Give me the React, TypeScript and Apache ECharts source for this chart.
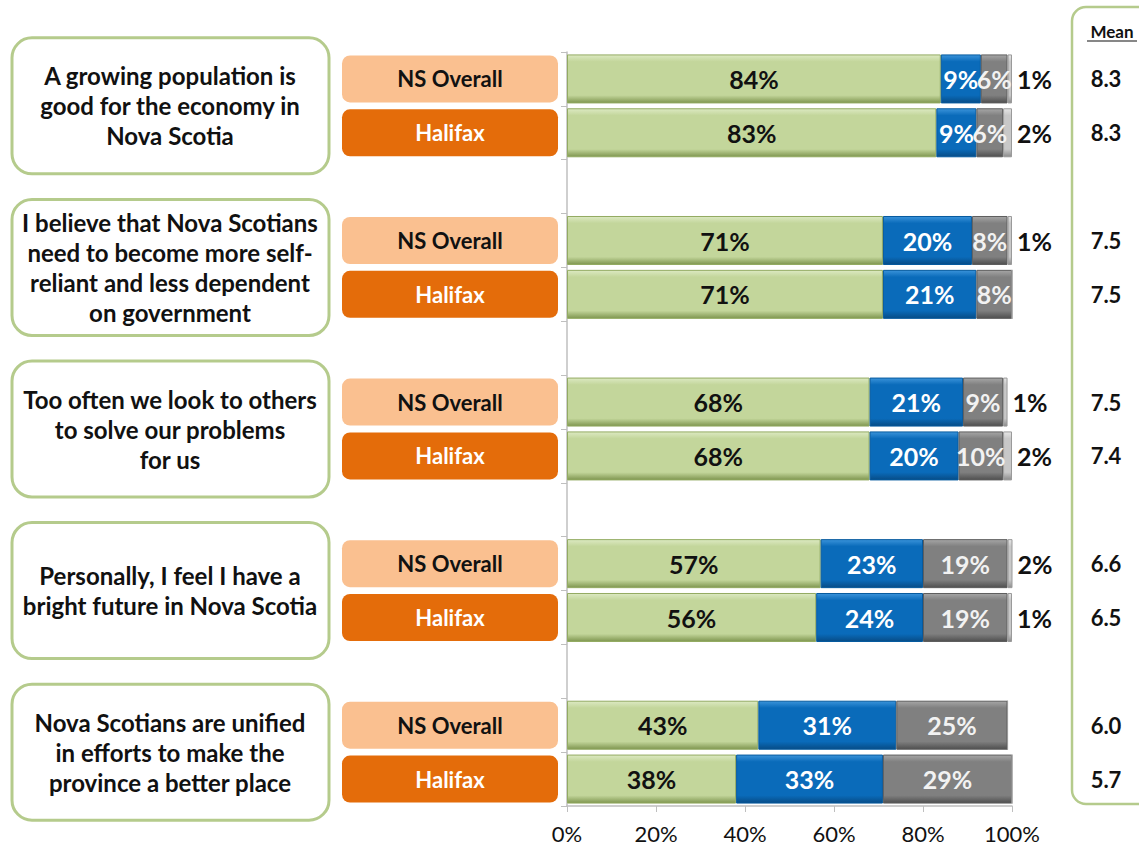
import React, { useEffect, useRef } from "react";
import * as echarts from "echarts";

const statements = [
  "A growing population is\ngood for the economy in\nNova Scotia",
  "I believe that Nova Scotians\nneed to become more self-\nreliant and less dependent\non government",
  "Too often we look to others\nto solve our problems\nfor us",
  "Personally, I feel I have a\nbright future in Nova Scotia",
  "Nova Scotians are unified\nin efforts to make the\nprovince a better place",
];
const groupLabels = ["NS Overall", "Halifax"];
// order: NS, Halifax for each statement
const agree = [84, 83, 71, 71, 68, 68, 57, 56, 43, 38];
const neutral = [9, 9, 20, 21, 21, 20, 23, 24, 31, 33];
const disagree = [6, 6, 8, 8, 9, 10, 19, 19, 25, 29];
const dontKnow = [1, 2, 1, 0, 1, 2, 2, 1, 0, 0];
const means = ["8.3", "8.3", "7.5", "7.5", "7.5", "7.4", "6.6", "6.5", "6.0", "5.7"];
const xTicks = [0, 20, 40, 60, 80, 100];

const FONT = "Lato, 'Open Sans', sans-serif";

export default function App() {
  const ref = useRef<HTMLDivElement>(null);
  useEffect(() => {
    if (!ref.current) return;
    const chart = echarts.init(ref.current, null, { renderer: "svg" });

    const cats: string[] = [];
    const idx: (number | null)[] = [];
    statements.forEach((_, g) => {
      cats.push("ns" + g); idx.push(g * 2);
      cats.push("hf" + g); idx.push(g * 2 + 1);
      if (g < statements.length - 1) { cats.push("gap" + g); idx.push(null); }
    });
    const pick = (arr: number[]) => idx.map((i) => (i === null ? "-" : arr[i]));

    const gridTop = 52, gridBottomY = 806, gridLeft = 567, gridRightX = 1012;
    const band = (gridBottomY - gridTop) / cats.length;

    const grad = (light: string, base: string, dark: string) =>
      new echarts.graphic.LinearGradient(0, 0, 0, 1, [
        { offset: 0, color: light },
        { offset: 0.14, color: base },
        { offset: 0.84, color: base },
        { offset: 1, color: dark },
      ]);

    const lbl = (color: string, pos: any = "inside", extra: any = {}) => ({
      show: true,
      position: pos,
      color,
      fontFamily: FONT,
      fontWeight: "bold",
      fontSize: 25,
      formatter: (p: any) => (p.value > 0 ? p.value + "%" : ""),
      ...extra,
    });

    const graphics: any[] = [];
    statements.forEach((s, g) => {
      const cy = gridTop + band * (3 * g + 1);
      graphics.push({
        type: "rect",
        shape: { x: 12, y: cy - 68, width: 317, height: 136, r: 20 },
        style: { fill: "#fff", stroke: "#B5CB8C", lineWidth: 3 },
      });
      graphics.push({
        type: "text",
        x: 170,
        y: cy,
        style: {
          text: s,
          fill: "#111",
          font: "bold 24px " + FONT,
          align: "center",
          verticalAlign: "middle",
          lineHeight: 30,
        },
      });
    });
    graphics.push({
      type: "rect",
      shape: { x: 1072, y: 7, width: 110, height: 797, r: 14 },
      style: { fill: "none", stroke: "#B5CB8C", lineWidth: 2.5 },
    });
    graphics.push({
      type: "text",
      x: 1112,
      y: 31,
      style: {
        text: "Mean",
        fill: "#111",
        font: "bold 17px " + FONT,
        align: "center",
        verticalAlign: "middle",
      },
    });
    graphics.push({
      type: "line",
      shape: { x1: 1087, y1: 41, x2: 1137, y2: 41 },
      style: { stroke: "#111", lineWidth: 1.2 },
    });

    chart.setOption({
      animation: false,
      backgroundColor: "#fff",
      grid: {
        left: gridLeft,
        right: 1139 - gridRightX,
        top: gridTop,
        bottom: 846 - gridBottomY,
        containLabel: false,
      },
      xAxis: {
        type: "value",
        min: 0,
        max: 100,
        interval: 20,
        axisLine: { show: true, lineStyle: { color: "#BFBFBF", width: 1.5 } },
        axisTick: { show: true, length: 6, lineStyle: { color: "#BFBFBF" } },
        splitLine: { show: false },
        axisLabel: {
          formatter: (v: number) => (xTicks.includes(v) ? v + "%" : ""),
          color: "#111",
          fontFamily: FONT,
          fontSize: 22,
          margin: 16,
        },
      },
      yAxis: [
        {
          type: "category",
          data: cats,
          inverse: true,
          axisLine: { show: true, lineStyle: { color: "#BFBFBF", width: 1.5 } },
          axisTick: { show: true, length: 6, lineStyle: { color: "#BFBFBF" } },
          axisLabel: {
            margin: 9,
            interval: 0,
            formatter: (v: string) =>
              v.startsWith("ns")
                ? "{ns|" + groupLabels[0] + "}"
                : v.startsWith("hf")
                ? "{hf|" + groupLabels[1] + "}"
                : "",
            rich: {
              ns: {
                width: 216,
                height: 47,
                lineHeight: 47,
                backgroundColor: "#FAC090",
                borderRadius: 8,
                align: "center",
                color: "#111",
                fontWeight: "bold",
                fontSize: 22,
                fontFamily: FONT,
              },
              hf: {
                width: 216,
                height: 47,
                lineHeight: 47,
                backgroundColor: "#E46C0A",
                borderRadius: 8,
                align: "center",
                color: "#ffffff",
                fontWeight: "bold",
                fontSize: 22,
                fontFamily: FONT,
              },
            },
          },
        },
        {
          type: "category",
          data: cats,
          inverse: true,
          position: "right",
          axisLine: { show: false },
          axisTick: { show: false },
          axisLabel: {
            margin: 94,
            interval: 0,
            align: "center",
            color: "#111",
            fontWeight: "bold",
            fontSize: 22,
            fontFamily: FONT,
            formatter: (v: string) => {
              const i = cats.indexOf(v);
              const k = idx[i];
              return k === null ? "" : means[k];
            },
          },
        },
      ],
      series: [
        {
          name: "Agree",
          type: "bar",
          stack: "t",
          barWidth: "91%",
          data: pick(agree),
          itemStyle: {
            color: grad("#DCE9C2", "#C3D69B", "#7F9650"),
            borderColor: "#93AB62",
            borderWidth: 1,
          },
          label: lbl("#111"),
        },
        {
          name: "Neutral",
          type: "bar",
          stack: "t",
          data: pick(neutral),
          itemStyle: {
            color: grad("#3A93DA", "#0A6BBA", "#074C86"),
            borderColor: "#065A9E",
            borderWidth: 1,
          },
          label: lbl("#ffffff"),
        },
        {
          name: "Disagree",
          type: "bar",
          stack: "t",
          data: pick(disagree),
          itemStyle: {
            color: grad("#A6A6A6", "#808080", "#4F4F4F"),
            borderColor: "#5E5E5E",
            borderWidth: 1,
          },
          label: lbl("#F2F2F2"),
        },
        {
          name: "Don't know",
          type: "bar",
          stack: "t",
          data: pick(dontKnow),
          itemStyle: {
            color: grad("#E6E6E6", "#C8C8C8", "#8C8C8C"),
            borderColor: "#9A9A9A",
            borderWidth: 1,
          },
          label: lbl("#111", "right", { distance: 5 }),
        },
      ],
      graphic: graphics,
    });
    return () => chart.dispose();
  }, []);
  return (
    <div
      ref={ref}
      style={{ position: "fixed", left: 0, top: 0, width: 1139, height: 846 }}
    />
  );
}
